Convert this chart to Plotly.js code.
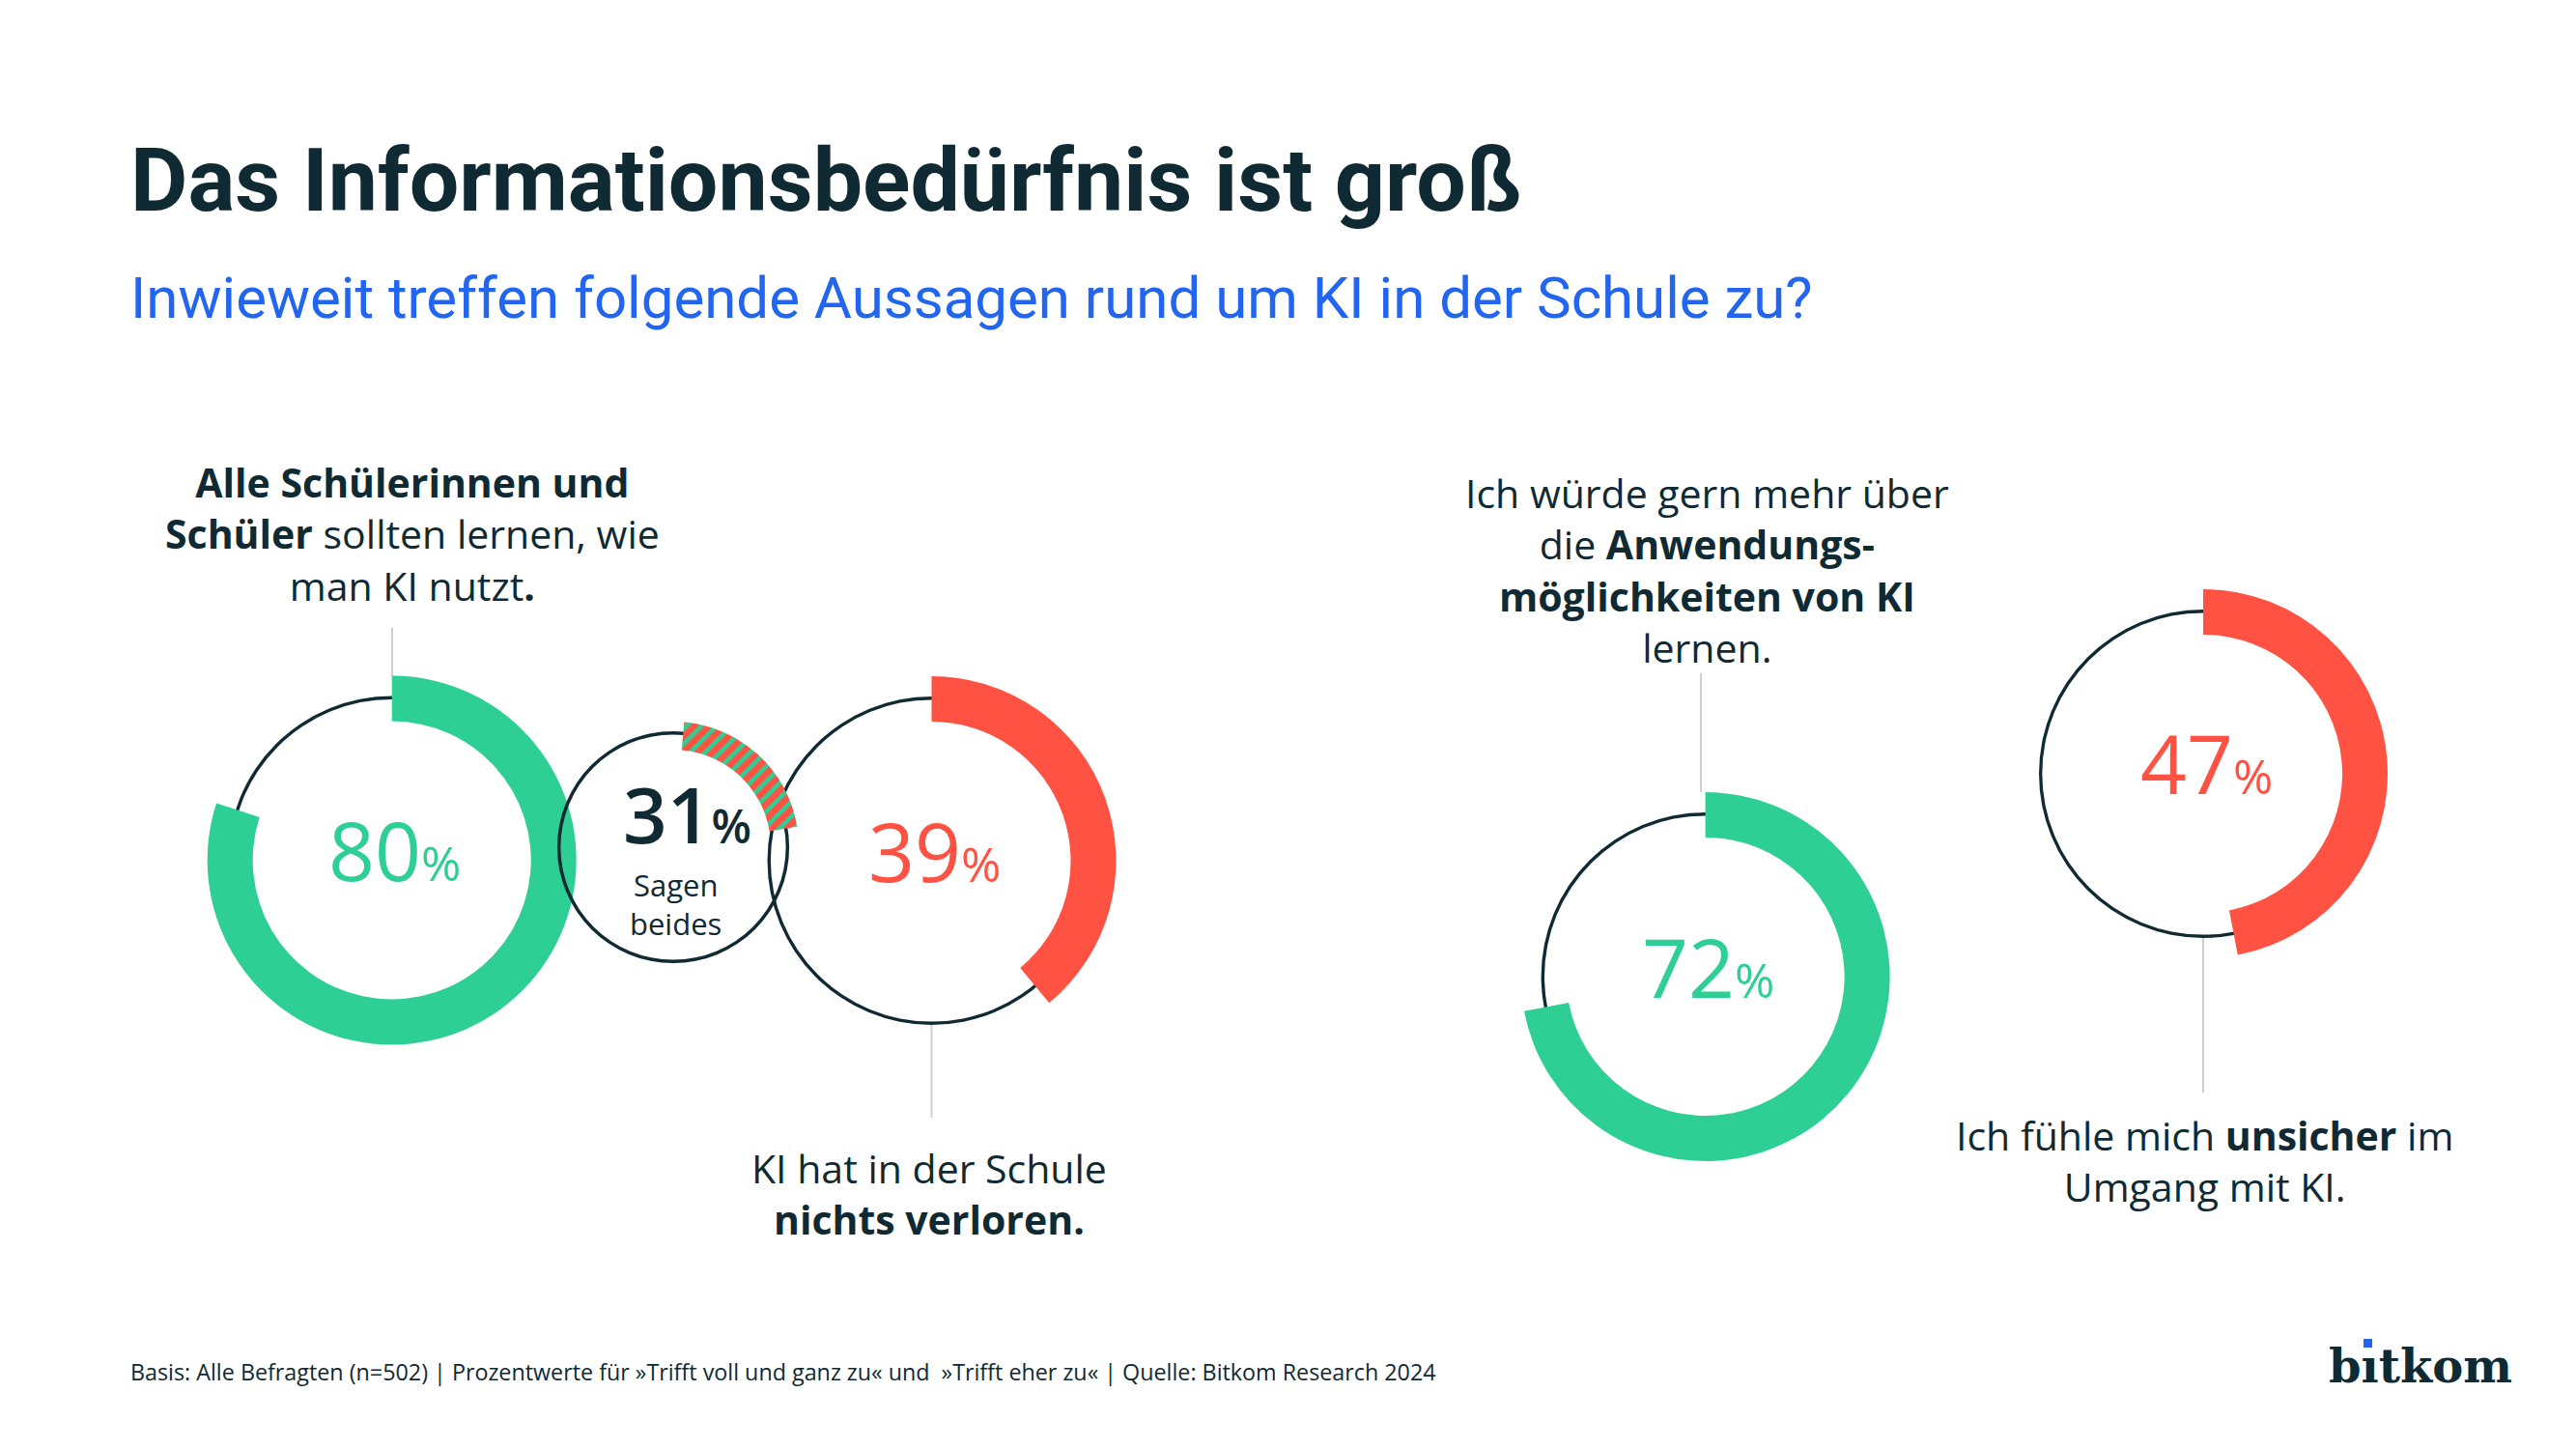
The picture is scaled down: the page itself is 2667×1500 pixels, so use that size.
<!DOCTYPE html>
<html>
<head>
<meta charset="utf-8">
<script src="https://cdn.plot.ly/plotly-3.0.1.min.js"></script>
<style>html,body{margin:0;padding:0;background:#ffffff;}</style>
</head>
<body>
<div id="chart" style="width:2667px;height:1500px;"></div>
<script>
// ---------------- data ----------------
const titleText = 'Das Informationsbedürfnis ist groß';
const subtitleText = 'Inwieweit treffen folgende Aussagen rund um KI in der Schule zu?';
const statementTexts = [
  '<b>Alle Schülerinnen und</b><br><b>Schüler</b> sollten lernen, wie<br>man KI nutzt<b>.</b>',
  'KI hat in der Schule<br><b>nichts verloren.</b>',
  'Ich würde gern mehr über<br>die <b>Anwendungs-</b><br><b>möglichkeiten von KI</b><br>lernen.',
  'Ich fühle mich <b>unsicher</b> im<br>Umgang mit KI.'
];
const agreeShares = [80, 39, 72, 47];          // % agreeing with each statement
const bothShare = 31;                          // % saying both (statements 1 and 2)
const bothLabel = 'Sagen<br>beides';
const bothArcShare = [21, 79];                 // share of the small ring drawn hatched
const sourceText = 'Basis: Alle Befragten (n=502) | Prozentwerte für »Trifft voll und ganz zu« und  »Trifft eher zu« | Quelle: Bitkom Research 2024';

// ---------------- style / layout ----------------
const W = 2667, H = 1500;
const DARK = '#102a33';
const GREEN = '#2ecf95';
const RED = '#ff5242';
const BLUE = '#2265f0';
const BODY = 'Open Sans, Noto Sans, sans-serif';
const HEAD = 'Roboto, Open Sans, sans-serif';

const ringColors = [GREEN, RED, GREEN, RED];
const centers = [[405.7, 890.5], [964.5, 891], [1765.6, 1011], [2281, 801]];
const BIG = {outer: 191, inner: 144, ring: 170};
const SMALL = {c: [697, 877], outer: 130, inner: 101, ring: 120};
const THIN = 3.4;

function dom(cx, cy, r) {
  return {x: [(cx - r) / W, (cx + r) / W], y: [1 - (cy + r) / H, 1 - (cy - r) / H]};
}
function px(x) { return x / W; }
function py(y) { return 1 - y / H; }

function ringTrace(cx, cy, r) {
  return {
    type: 'pie', values: [1], labels: ['ring' + cx], sort: false,
    marker: {colors: [DARK], line: {width: 0}},
    hole: (r - THIN) / r, domain: dom(cx, cy, r),
    textinfo: 'none', hoverinfo: 'skip', showlegend: false
  };
}
function arcTrace(cx, cy, vals, color, outer, inner, extra) {
  const t = {
    type: 'pie', values: vals, labels: ['a' + cx, 'b' + cx], sort: false,
    direction: 'clockwise', rotation: 0,
    marker: {colors: [color, 'rgba(0,0,0,0)'], line: {width: 0}},
    hole: inner / outer, domain: dom(cx, cy, outer),
    textinfo: 'none', hoverinfo: 'skip', showlegend: false
  };
  return Object.assign(t, extra || {});
}

const traces = [];
agreeShares.forEach((v, i) => {
  const [cx, cy] = centers[i];
  traces.push(ringTrace(cx, cy, BIG.ring));
  traces.push(arcTrace(cx, cy, [v, 100 - v], ringColors[i], BIG.outer, BIG.inner));
});
traces.push(ringTrace(SMALL.c[0], SMALL.c[1], SMALL.ring));
traces.push(arcTrace(SMALL.c[0], SMALL.c[1], bothArcShare, RED, SMALL.outer, SMALL.inner, {
  rotation: 5,
  marker: {
    colors: [RED, 'rgba(0,0,0,0)'], line: {width: 0},
    pattern: {shape: ['/', ''], fgcolor: [GREEN, 'rgba(0,0,0,0)'], bgcolor: [RED, 'rgba(0,0,0,0)'],
              size: 11, solidity: 0.42, fillmode: 'replace'}
  }
}));

const annotations = [];
// title + subtitle
annotations.push({text: '<b>' + titleText + '</b>', x: px(133), y: py(186), xanchor: 'left', yanchor: 'middle',
  showarrow: false, font: {family: HEAD, size: 91.4, color: DARK}});
annotations.push({text: subtitleText, x: px(133), y: py(309), xanchor: 'left', yanchor: 'middle',
  showarrow: false, font: {family: HEAD, size: 60, color: BLUE}});
// percentages
agreeShares.forEach((v, i) => {
  const [cx, cy] = centers[i];
  annotations.push({text: v + '<span style="font-size:50px">%</span>', x: px(cx + 3), y: py(cy - 11),
    xanchor: 'center', yanchor: 'middle', showarrow: false,
    font: {family: BODY, size: 84, color: ringColors[i]}});
});
annotations.push({text: bothShare + '<span style="font-size:48px">%</span>', x: px(711), y: py(841),
  xanchor: 'center', yanchor: 'middle', showarrow: false,
  font: {family: BODY, size: 80, color: DARK, weight: 600}});
annotations.push({text: bothLabel, x: px(699), y: py(936), xanchor: 'center', yanchor: 'middle',
  showarrow: false, font: {family: BODY, size: 31, color: DARK}});
// statements
const labelPos = [[427, 552], [962, 1235], [1767, 590], [2282, 1201]];
statementTexts.forEach((t, i) => {
  annotations.push({text: t, x: px(labelPos[i][0]), y: py(labelPos[i][1]), xanchor: 'center', yanchor: 'middle',
    align: 'center', showarrow: false, font: {family: BODY, size: 41, color: DARK}});
});
// source
annotations.push({text: sourceText, x: px(133), y: py(1420), xanchor: 'left', yanchor: 'middle',
  showarrow: false, font: {family: BODY, size: 23.3, color: DARK}});
// logo
annotations.push({text: '<b>bıtkom</b>', x: px(2409), y: py(1413.5), xanchor: 'left', yanchor: 'middle',
  showarrow: false, font: {family: 'DejaVu Serif, serif', size: 48, color: DARK}});

const guide = {color: '#cfcfcf', width: 2};
const guideLines = [[406, 650, 700], [964.5, 1061, 1157], [1761, 697, 820], [2281, 971, 1131]];
const shapes = guideLines.map(g => ({type: 'line', xref: 'paper', yref: 'paper', layer: 'below',
  x0: px(g[0]), x1: px(g[0]), y0: py(g[1]), y1: py(g[2]), line: guide}));
shapes.push({type: 'rect', xref: 'paper', yref: 'paper', x0: px(2447), x1: px(2456), y0: py(1395), y1: py(1386),
  fillcolor: BLUE, line: {width: 0}});

const layout = {
  width: W, height: H, margin: {l: 0, r: 0, t: 0, b: 0},
  paper_bgcolor: '#ffffff', plot_bgcolor: '#ffffff',
  showlegend: false, annotations: annotations, shapes: shapes, hovermode: false
};
Plotly.newPlot('chart', traces, layout, {staticPlot: true, displayModeBar: false});
</script>
</body>
</html>
